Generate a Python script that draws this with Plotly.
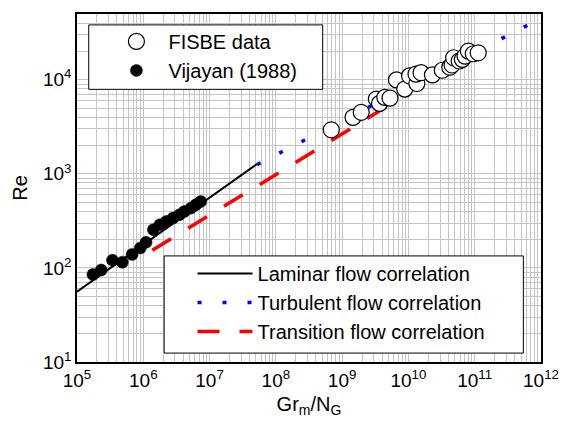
import plotly.graph_objects as go

# FISBE data (open circles)
fisbe_x = [6.86e8, 1.46e9, 1.94e9, 3.28e9, 3.67e9, 4.4e9, 5.27e9, 6.6e9, 8.8e9, 1.04e10,
           1.34e10, 1.30e10, 1.55e10, 2.30e10, 3.24e10, 4.2e10, 4.55e10, 4.81e10, 5.82e10,
           6.5e10, 7.14e10, 8.02e10, 9.51e10, 1.13e11]
fisbe_y = [2940, 3990, 4510, 6240, 5610, 6500, 6390, 9970, 7960, 10990,
           9120, 11500, 11900, 11270, 12620, 13600, 14350, 17140, 15820,
           16500, 17860, 20170, 18900, 19350]

# Vijayan (1988) data (filled circles)
vij_x = [1.74e5, 2.32e5, 3.43e5, 4.83e5, 6.79e5, 9.04e5, 1.1e6, 1.42e6, 1.78e6, 2.23e6,
         2.81e6, 3.52e6, 4.17e6, 5.22e6, 6.19e6, 7.35e6]
vij_y = [85, 95, 121, 115, 139, 163, 187, 255, 288, 312,
         339, 367, 397, 432, 468, 507]

# Correlation lines (end points)
lam_x = [1e5, 5.2e7]
lam_y = [55.9, 1273]
turb_x = [5.2e7, 6.24e11]
turb_y = [1253, 37900]
trans_x = [1.37e6, 5.0e9]
trans_y = [154, 5330]

# Tick labels
x_tickvals = [1e5, 1e6, 1e7, 1e8, 1e9, 1e10, 1e11, 1e12]
x_ticktext = ["10<sup>5</sup>", "10<sup>6</sup>", "10<sup>7</sup>", "10<sup>8</sup>",
              "10<sup>9</sup>", "10<sup>10</sup>", "10<sup>11</sup>", "10<sup>12</sup>"]
y_tickvals = [1e1, 1e2, 1e3, 1e4]
y_ticktext = ["10<sup>1</sup>", "10<sup>2</sup>", "10<sup>3</sup>", "10<sup>4</sup>"]

FONT = "Liberation Sans, Arial, sans-serif"

fig = go.Figure()
fig.add_trace(go.Scatter(x=lam_x, y=lam_y, mode="lines", name="Laminar flow correlation",
                         line=dict(color="black", width=2), legend="legend2"))
fig.add_trace(go.Scatter(x=turb_x, y=turb_y, mode="lines", name="Turbulent flow correlation",
                         line=dict(color="#0000ff", width=3.5, dash="4px,21px"), legend="legend2"))
fig.add_trace(go.Scatter(x=trans_x, y=trans_y, mode="lines", name="Transition flow correlation",
                         line=dict(color="#ff0000", width=3.5, dash="22px,20px"), legend="legend2"))
fig.add_trace(go.Scatter(x=fisbe_x, y=fisbe_y, mode="markers", name="FISBE data",
                         marker=dict(symbol="circle", size=16, color="white",
                                     line=dict(color="black", width=1.2)), legend="legend"))
fig.add_trace(go.Scatter(x=vij_x, y=vij_y, mode="markers", name="Vijayan (1988)",
                         marker=dict(symbol="circle", size=12, color="black",
                                     line=dict(color="black", width=0.5)), legend="legend"))

axis_common = dict(type="log", showline=True, mirror=True, linecolor="black", linewidth=1.5,
                   gridcolor="#c4c4c4", gridwidth=1, ticks="", zeroline=False,
                   tickmode="array",
                   tickfont=dict(family=FONT, size=19, color="black"),
                   minor=dict(showgrid=True, gridcolor="#c4c4c4", gridwidth=1, dtick="D1"))

# legend frames (paper coordinates of the plot area)
box1 = dict(x0=0.0253, x1=0.5295, y0=0.7835, y1=0.9687)
box2 = dict(x0=0.1878, x1=0.962, y0=0.0256, y1=0.3048)

fig.update_layout(
    width=571, height=424,
    margin=dict(l=77, r=20, t=12, b=61),
    paper_bgcolor="white", plot_bgcolor="white",
    font=dict(family=FONT, color="black"),
    xaxis=dict(axis_common, range=[5, 12], tickvals=x_tickvals, ticktext=x_ticktext,
               title=dict(text="Gr<sub>m</sub>/N<sub>G</sub>", font=dict(family=FONT, size=20), standoff=7)),
    yaxis=dict(axis_common, range=[1, 4.69897], tickvals=y_tickvals, ticktext=y_ticktext,
               title=dict(text="Re", font=dict(family=FONT, size=20), standoff=10)),
    shapes=[
        dict(type="rect", xref="paper", yref="paper", layer="above",
             fillcolor="white", line=dict(color="black", width=1), **box1),
        dict(type="rect", xref="paper", yref="paper", layer="above",
             fillcolor="white", line=dict(color="black", width=1), **box2),
    ],
    legend=dict(x=(105 - 77) / 474, y=(363 - 20) / 351, xanchor="left", yanchor="top",
                bgcolor="rgba(0,0,0,0)", borderwidth=0, font=dict(family=FONT, size=20),
                itemwidth=54, tracegroupgap=0),
    legend2=dict(x=(195 - 77) / 474, y=(363 - 254) / 351, xanchor="left", yanchor="top",
                 bgcolor="rgba(0,0,0,0)", borderwidth=0, font=dict(family=FONT, size=20),
                 itemwidth=55, tracegroupgap=0),
    showlegend=True,
)

fig.write_html("out.html")
